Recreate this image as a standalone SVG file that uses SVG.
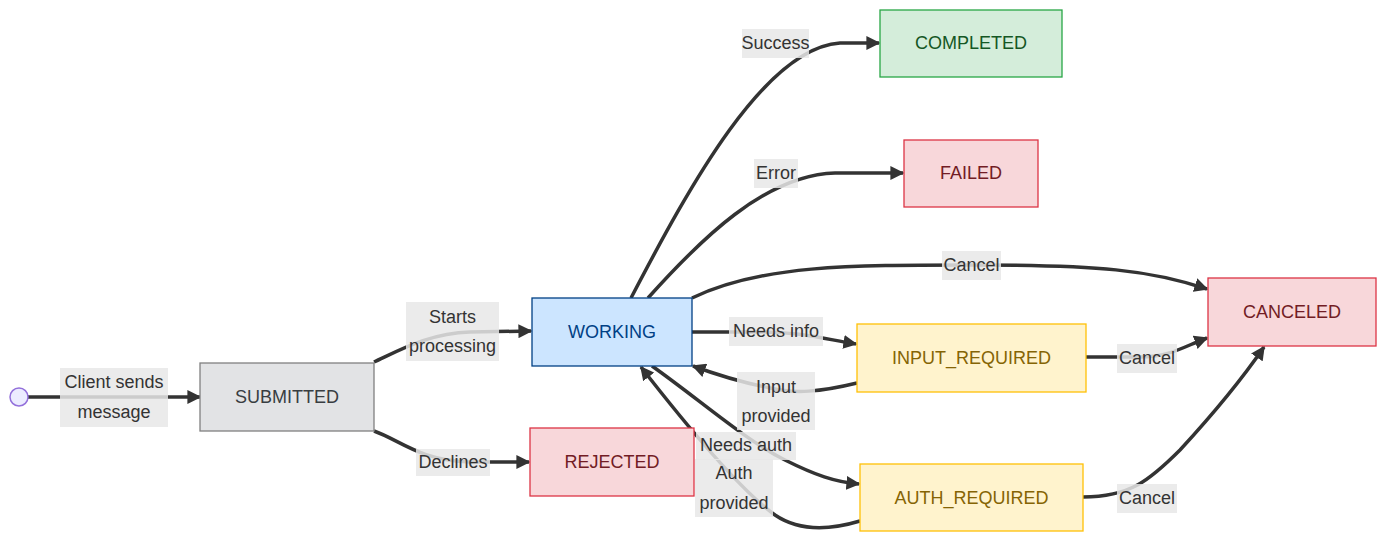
<svg xmlns="http://www.w3.org/2000/svg" width="1400" height="548" viewBox="0 0 1400 548">
<style>
  text { font-family: "Trebuchet MS", "Liberation Sans", "DejaVu Sans", sans-serif; font-size: 18px; text-anchor: middle; dominant-baseline: central; }
  .edge { fill: none; stroke: #333333; stroke-width: 3.5; marker-end: url(#arrow); }
  .lbl { fill: #e8e8e8; opacity: 0.85; }
  .lt { fill: #333333; }
  .gray rect { fill: #e2e3e5; stroke: #808080; stroke-width: 1.3; }
  .gray text { fill: #383d41; }
  .blue rect { fill: #cce5ff; stroke: #004085; stroke-width: 1.3; }
  .blue text { fill: #004085; }
  .red rect { fill: #f8d7da; stroke: #dc3545; stroke-width: 1.3; }
  .red text { fill: #721c24; }
  .green rect { fill: #d4edda; stroke: #28a745; stroke-width: 1.3; }
  .green text { fill: #155724; }
  .yellow rect { fill: #fff3cd; stroke: #ffc107; stroke-width: 1.3; }
  .yellow text { fill: #856404; }
</style>
<defs>
  <marker id="arrow" viewBox="0 0 10 10" refX="9" refY="5" markerWidth="4" markerHeight="4" markerUnits="strokeWidth" orient="auto">
    <path d="M0,0 L10,5 L0,10 z" fill="#333333"/>
  </marker>
</defs>
<rect width="1400" height="548" fill="#ffffff"/>

<g id="connectors">
  <path class="edge" d="M28,397 L200,397"/>
  <path class="edge" d="M374,362 C400,350 430,333 470,332 L531,331"/>
  <path class="edge" d="M374,431 C400,440 420,461 470,462 L529,462"/>
  <path class="edge" d="M631,298 C690,185 765,48 840,43 L879,43"/>
  <path class="edge" d="M648,298 C700,240 765,175 835,173 L903,173"/>
  <path class="edge" d="M692,298 C760,265 850,265 970,265 C1100,265 1150,270 1207,289"/>
  <path class="edge" d="M692,332 L760,332 C800,332 820,338 856,344"/>
  <path class="edge" d="M857,383 C820,392 795,394 770,388 C740,382 720,376 693,366"/>
  <path class="edge" d="M652,366 C700,400 745,440 785,460 C815,475 835,482 859,484"/>
  <path class="edge" d="M860,521 C830,530 800,532 775,515 C740,490 690,430 641,367"/>
  <path class="edge" d="M1086,357 L1140,357 C1170,357 1185,346 1207,338"/>
  <path class="edge" d="M1083,497 C1130,497 1150,480 1180,450 C1215,412 1240,382 1264,347"/>
</g>

<g id="edge-labels">
  <rect class="lbl" x="60" y="368" width="108" height="59"/>
  <text class="lt" x="114" y="382">Client sends</text>
  <text class="lt" x="114" y="412">message</text>
  <rect class="lbl" x="406" y="302" width="93" height="59"/>
  <text class="lt" x="452.5" y="317">Starts</text>
  <text class="lt" x="452.5" y="346">processing</text>
  <rect class="lbl" x="416" y="449" width="74" height="27"/>
  <text class="lt" x="453" y="462">Declines</text>
  <rect class="lbl" x="742" y="29" width="67" height="29"/>
  <text class="lt" x="775.5" y="43">Success</text>
  <rect class="lbl" x="754" y="159" width="44" height="29"/>
  <text class="lt" x="776" y="173">Error</text>
  <rect class="lbl" x="942" y="251" width="59" height="29"/>
  <text class="lt" x="971.5" y="265">Cancel</text>
  <rect class="lbl" x="729" y="317" width="94" height="29"/>
  <text class="lt" x="776" y="331">Needs info</text>
  <rect class="lbl" x="737" y="372" width="78" height="58"/>
  <text class="lt" x="776" y="387">Input</text>
  <text class="lt" x="776" y="416">provided</text>
  <rect class="lbl" x="696" y="432" width="100" height="28"/>
  <text class="lt" x="746" y="445">Needs auth</text>
  <rect class="lbl" x="695" y="459" width="78" height="58"/>
  <text class="lt" x="734" y="473">Auth</text>
  <text class="lt" x="734" y="503">provided</text>
  <rect class="lbl" x="1117" y="344" width="60" height="29"/>
  <text class="lt" x="1147" y="358">Cancel</text>
  <rect class="lbl" x="1117" y="484" width="60" height="29"/>
  <text class="lt" x="1147" y="498">Cancel</text>
</g>

<g id="start">
  <circle cx="19" cy="397" r="9" fill="#ececff" stroke="#9370db" stroke-width="1.5"/>
</g>
<g id="SUBMITTED" class="gray">
  <rect x="200" y="363" width="174" height="68"/>
  <text x="287" y="397">SUBMITTED</text>
</g>
<g id="WORKING" class="blue">
  <rect x="532" y="298" width="160" height="68"/>
  <text x="612" y="332">WORKING</text>
</g>
<g id="REJECTED" class="red">
  <rect x="530" y="428" width="164" height="68"/>
  <text x="612" y="462">REJECTED</text>
</g>
<g id="COMPLETED" class="green">
  <rect x="880" y="10" width="182" height="67"/>
  <text x="971" y="43">COMPLETED</text>
</g>
<g id="FAILED" class="red">
  <rect x="904" y="140" width="134" height="67"/>
  <text x="971" y="173">FAILED</text>
</g>
<g id="CANCELED" class="red">
  <rect x="1208" y="278" width="168" height="68"/>
  <text x="1292" y="312">CANCELED</text>
</g>
<g id="INPUT_REQUIRED" class="yellow">
  <rect x="857" y="324" width="229" height="68"/>
  <text x="971.5" y="358">INPUT_REQUIRED</text>
</g>
<g id="AUTH_REQUIRED" class="yellow">
  <rect x="860" y="464" width="223" height="67"/>
  <text x="971.5" y="498">AUTH_REQUIRED</text>
</g>
</svg>
